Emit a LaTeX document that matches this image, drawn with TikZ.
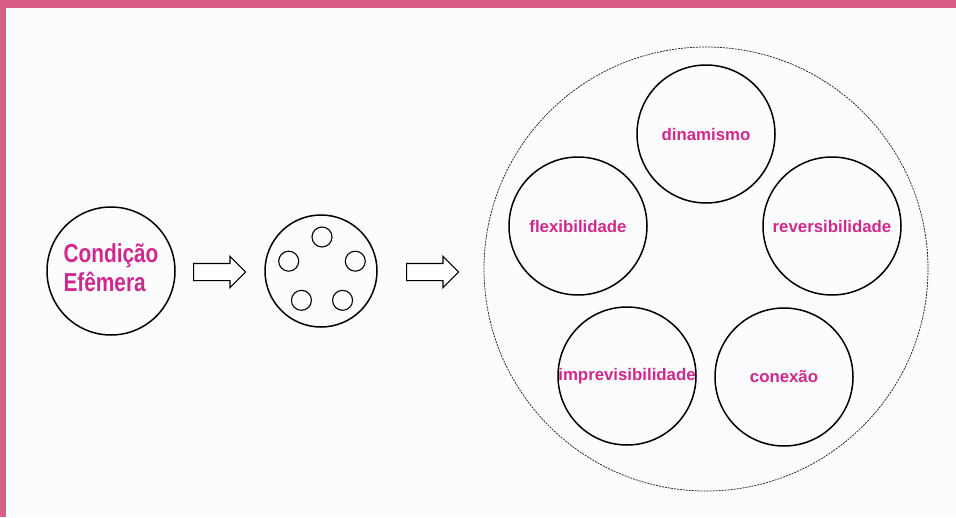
\documentclass[tikz,border=0pt]{standalone}
\usepackage{fontspec}
\setmainfont{Liberation Sans}
\usepackage{graphicx}
\usetikzlibrary{shapes.arrows,calc}
\definecolor{framepink}{RGB}{217,94,134}
\definecolor{labelpink}{RGB}{208,40,140}
\definecolor{paper}{RGB}{251,252,253}
\newcommand{\condensed}[1]{\scalebox{0.8}[1]{#1}}
\tikzset{
  ring/.style={circle, draw=black, line width=1.5pt, inner sep=0pt},
  dot/.style={circle, draw=black, line width=1.1pt, inner sep=0pt, minimum size=20pt},
  quality/.style={ring, minimum size=138pt, text=labelpink,
    font=\fontsize{16.8pt}{20pt}\selectfont\bfseries},
  hollowarrow/.style={single arrow, draw=black, line width=1.1pt, fill=white,
    minimum height=52pt, inner xsep=0pt, inner ysep=8pt,
    single arrow head extend=7pt, single arrow head indent=0pt}
}
\begin{document}
\begin{tikzpicture}[x=1pt, y=-1pt]
  % page and pink frame
  \fill[paper] (0,0) rectangle (956,517);
  \useasboundingbox (0,0) rectangle (956,517);
  \fill[framepink] (0,0) rectangle (956,8);
  \fill[framepink] (0,0) rectangle (6,517);

  % starting state
  \node[ring, minimum size=128pt] (start) at (111,271) {};
  \node[text=labelpink, align=left, inner sep=0pt,
        font=\fontsize{26pt}{29pt}\selectfont\bfseries] (startlabel) at (111,268)
        {\condensed{Condição}\\\condensed{Efêmera}};

  % fragmented state
  \node[ring, minimum size=112pt] (split) at (321,271) {};
  \foreach \a [count=\i] in {90,162,234,306,18}
    \node[dot] (part\i) at ($(322,272)+(\a:35pt)$) {};

  % transitions
  \node[hollowarrow, anchor=west] (step1) at (193,272) {};
  \node[hollowarrow, anchor=west] (step2) at (406,272) {};

  % the five qualities inside the dashed frame
  \node[circle, draw=black!85, line width=0.75pt, dash pattern=on 2pt off 1pt,
        minimum size=444pt, inner sep=0pt] (whole) at (706,269) {};
  \node[quality] (q1) at (706,134) {dinamismo};
  \node[quality] (q2) at (578,226) {flexibilidade};
  \node[quality] (q3) at (832,226) {reversibilidade};
  \node[quality] (q4) at (627,376) {imprevisibilidade};
  \node[quality] (q5) at (784,377) {conexão};
\end{tikzpicture}
\end{document}
